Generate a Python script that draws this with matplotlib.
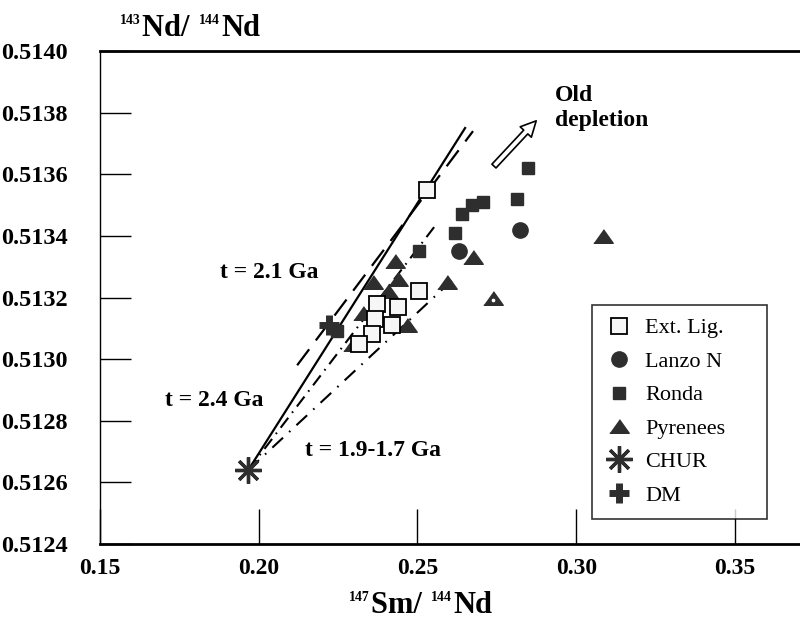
import matplotlib.pyplot as plt
from matplotlib.offsetbox import TextArea, HPacker, AnnotationBbox

# Ext. Lig. (open squares)
ext_lig_x = [0.2530, 0.2505, 0.2372, 0.2439, 0.2366, 0.2420, 0.2357, 0.2316]
ext_lig_y = [0.51355, 0.51322, 0.51318, 0.51317, 0.51313, 0.51311, 0.51308, 0.51305]

# Lanzo N (circles)
lanzo_x = [0.2823, 0.2631]
lanzo_y = [0.51342, 0.51335]

# Ronda (filled squares)
ronda_x = [0.2848, 0.2813, 0.2706, 0.2672, 0.2640, 0.2618, 0.2505, 0.2246]
ronda_y = [0.51362, 0.51352, 0.51351, 0.51350, 0.51347, 0.51341, 0.51335, 0.51309]

# Pyrenees (triangles)
pyr_x = [0.3084, 0.2675, 0.2593, 0.2738, 0.2429, 0.2360, 0.2439, 0.2407,
         0.2328, 0.2467, 0.2297]
pyr_y = [0.51340, 0.51333, 0.51325, 0.51320, 0.51332, 0.51325, 0.51326, 0.51322,
         0.51315, 0.51311, 0.51305]

# reservoirs
chur_x, chur_y = 0.1967, 0.51264
dm_x, dm_y = 0.2220, 0.51311

# isochron lines (end points)
t24_x = [0.1967, 0.2650]
t24_y = [0.51264, 0.51375]
t21_x = [0.2121, 0.2675]
t21_y = [0.51298, 0.51374]
t19_x = [0.1967, 0.2561]
t19_y = [0.51264, 0.51344]
t17_x = [0.1967, 0.2624]
t17_y = [0.51264, 0.51327]

# arrow "Old depletion"
arrow_start = (0.2735, 0.51362)
arrow_end = (0.2880, 0.51378)

x_ticks = [0.15, 0.20, 0.25, 0.30, 0.35]
x_tick_labels = ['0.15', '0.20', '0.25', '0.30', '0.35']
y_ticks = [0.5124, 0.5126, 0.5128, 0.5130, 0.5132, 0.5134, 0.5136, 0.5138, 0.5140]
y_tick_labels = ['0.5124', '0.5126', '0.5128', '0.5130', '0.5132', '0.5134',
                 '0.5136', '0.5138', '0.5140']


def isotope_label(fig, parts, xy):
    # parts: list of (text, is_superscript)
    boxes = []
    for txt, sup in parts:
        size = 10 if sup else 22
        boxes.append(TextArea(txt, textprops=dict(fontsize=size, fontweight='bold')))
    pack = HPacker(children=boxes, align='top', pad=0, sep=1)
    ab = AnnotationBbox(pack, xy, xycoords='figure fraction', frameon=False,
                        box_alignment=(0.5, 0.5), pad=0)
    fig.add_artist(ab)


def main():
    plt.rcParams['font.family'] = 'Liberation Serif'
    plt.rcParams['font.weight'] = 'bold'

    fig = plt.figure(figsize=(8, 6.33), dpi=100)
    ax = fig.add_axes([0.125, 0.1406, 0.875, 0.7788])

    dark = '#2e2e2e'

    # lines
    ax.plot(t24_x, t24_y, color='black', lw=1.6, zorder=2)
    ax.plot(t21_x, t21_y, color='black', lw=1.6, linestyle=(0, (9, 5)), zorder=2)
    ax.plot(t19_x, t19_y, color='black', lw=1.5, linestyle=(0, (6, 3, 0.8, 3)), zorder=2)
    ax.plot(t17_x, t17_y, color='black', lw=1.5, linestyle=(0, (7, 4, 0.8, 4)), zorder=2)

    # data
    tri = [(-1, -0.7), (1, -0.7), (0, 0.7)]
    ax.plot(pyr_x, pyr_y, linestyle='none', marker=tri, markersize=14,
            color=dark, markeredgecolor=dark, zorder=3, label='Pyrenees')
    ax.plot([pyr_x[3]], [pyr_y[3] - 0.000008], linestyle='none', marker='o',
            markersize=3.5, markerfacecolor='white', markeredgecolor=dark,
            markeredgewidth=0.8, zorder=4)
    ax.plot(ronda_x, ronda_y, linestyle='none', marker='s', markersize=9,
            color=dark, zorder=3, label='Ronda')
    ax.plot(lanzo_x, lanzo_y, linestyle='none', marker='o', markersize=11,
            color=dark, zorder=3, label='Lanzo N')
    ax.plot(ext_lig_x, ext_lig_y, linestyle='none', marker='s', markersize=11.5,
            markerfacecolor='#f6f6f6', markeredgecolor='black',
            markeredgewidth=1.3, zorder=5, label='Ext. Lig.')
    ax.plot([chur_x], [chur_y], linestyle='none', marker=(8, 2, 0), markersize=19,
            markeredgewidth=2.4, color=dark, zorder=6, label='CHUR')
    ax.plot([dm_x], [dm_y], linestyle='none', marker='+', markersize=15,
            markeredgewidth=5, color=dark, zorder=6, label='DM')

    # arrow
    ax.annotate('', xy=arrow_end, xytext=arrow_start,
                arrowprops=dict(arrowstyle='simple,head_length=1.1,head_width=1.1,tail_width=0.4',
                                fc='white', ec='black', lw=1.2))

    # labels in plot
    ax.text(0.2933, 0.513815, 'Old\ndepletion', fontsize=17, ha='left', va='center',
            linespacing=1.3)
    ax.text(0.1878, 0.51328, 't = 2.1 Ga', fontsize=17, ha='left', va='center')
    ax.text(0.1705, 0.512867, 't = 2.4 Ga', fontsize=17, ha='left', va='center')
    ax.text(0.2146, 0.512705, 't = 1.9-1.7 Ga', fontsize=17, ha='left', va='center')

    # axes
    ax.set_xlim(0.15, 0.3705)
    ax.set_ylim(0.5124, 0.5140)
    ax.set_xticks(x_ticks)
    ax.set_xticklabels(x_tick_labels, fontsize=17)
    ax.set_yticks(y_ticks)
    ax.set_yticklabels(y_tick_labels, fontsize=17.5)
    ax.tick_params(axis='x', direction='in', length=25, width=1, pad=10)
    ax.tick_params(axis='y', direction='in', length=22, width=1, pad=23)
    ax.spines['right'].set_visible(False)
    ax.spines['top'].set_linewidth(2)
    ax.spines['bottom'].set_linewidth(2)
    ax.spines['left'].set_linewidth(1)

    isotope_label(fig, [('143', True), ('Nd/ ', False), ('144', True), ('Nd', False)],
                  (0.2375, 0.955))
    isotope_label(fig, [('147', True), ('Sm/ ', False), ('144', True), ('Nd', False)],
                  (0.526, 0.044))

    # legend
    handles, labels = ax.get_legend_handles_labels()
    order = ['Ext. Lig.', 'Lanzo N', 'Ronda', 'Pyrenees', 'CHUR', 'DM']
    hl = dict(zip(labels, handles))
    leg = ax.legend([hl[k] for k in order], order, loc='lower left',
                    bbox_to_anchor=(0.703, 0.0507, 0.25, 0.43), mode='expand',
                    prop={'weight': 'normal', 'size': 16}, frameon=True, fancybox=False,
                    edgecolor='black', borderpad=0.6, labelspacing=0.58,
                    handlelength=1.2, handletextpad=0.6, borderaxespad=0)
    leg.get_frame().set_linewidth(1.2)
    leg.set_zorder(10)

    fig.savefig('out.png', dpi=100)


if __name__ == '__main__':
    main()
